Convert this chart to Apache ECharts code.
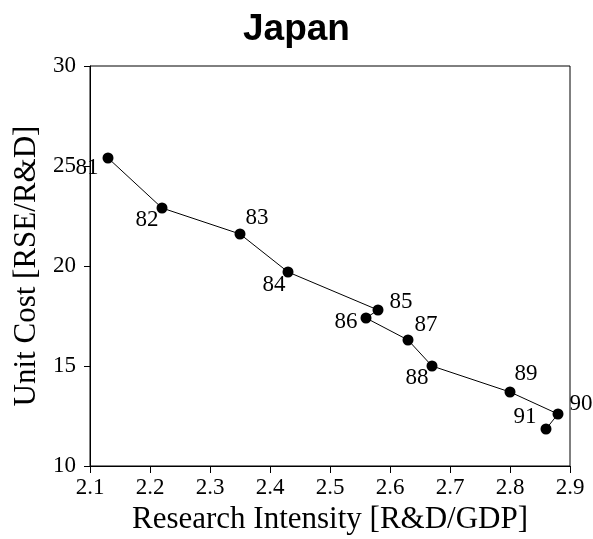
<!DOCTYPE html>
<html>
<head>
<meta charset="utf-8">
<script src="https://cdn.jsdelivr.net/npm/echarts@6/dist/echarts.min.js"></script>
<style>
html,body{margin:0;padding:0;background:#fff;}
#chart{width:593px;height:539px;}
</style>
</head>
<body>
<div id="chart"></div>
<script>
// Data
const years = ['81','82','83','84','85','86','87','88','89','90','91'];
const researchIntensity = [2.13, 2.22, 2.35, 2.43, 2.58, 2.56, 2.63, 2.67, 2.80, 2.88, 2.86];
const unitCost = [25.4, 22.9, 21.6, 19.7, 17.8, 17.4, 16.3, 15.0, 13.7, 12.6, 11.85];
const xTicks = ['2.1','2.2','2.3','2.4','2.5','2.6','2.7','2.8','2.9'];
const yTicks = ['10','15','20','25','30'];

// Style: label offsets (pixels) for each year label
const labelOffsets = [[-21,10],[-15,12],[17,-16],[-14,13],[23,-8],[-20,4],[18,-15],[-15,12],[16,-18],[23,-10],[-21,-12]];

const serif = '"Liberation Serif", "DejaVu Serif", serif';
const chart = echarts.init(document.getElementById('chart'), null, {renderer: 'canvas'});

const seriesData = researchIntensity.map((x, i) => ({
  value: [x, unitCost[i]],
  name: years[i],
  label: { offset: labelOffsets[i] }
}));

chart.setOption({
  animation: false,
  backgroundColor: '#fff',
  title: {
    text: 'Japan',
    left: 'center',
    top: 6,
    textStyle: { fontFamily: '"Liberation Sans", Arial, sans-serif', fontWeight: 'bold', fontSize: 37, color: '#000' }
  },
  grid: {
    left: 90, right: 23, top: 66, bottom: 73,
    containLabel: false,
    outerBoundsMode: 'none',
    show: true, borderColor: '#000', borderWidth: 1, backgroundColor: 'transparent'
  },
  xAxis: {
    type: 'value',
    min: 2.1, max: 2.9, interval: 0.1,
    name: 'Research Intensity [R&D/GDP]',
    nameLocation: 'middle',
    nameGap: 35,
    nameTextStyle: { fontFamily: serif, fontSize: 31, color: '#000' },
    axisLine: { show: true, lineStyle: { color: '#000', width: 1 } },
    axisTick: { show: true, inside: false, length: 7, lineStyle: { color: '#000' } },
    axisLabel: {
      fontFamily: serif, fontSize: 23, color: '#000', margin: 10,
      formatter: (v) => { const s = v.toFixed(1); return xTicks.includes(s) ? s : ''; }
    },
    splitLine: { show: false }
  },
  yAxis: {
    type: 'value',
    min: 10, max: 30, interval: 5,
    name: 'Unit Cost [RSE/R&D]',
    nameLocation: 'middle',
    nameGap: 48,
    nameTextStyle: { fontFamily: serif, fontSize: 31, color: '#000' },
    axisLine: { show: true, lineStyle: { color: '#000', width: 1 } },
    axisTick: { show: true, inside: false, length: 6, lineStyle: { color: '#000' } },
    axisLabel: {
      fontFamily: serif, fontSize: 23, color: '#000', margin: 14,
      formatter: (v) => { const s = String(v); return yTicks.includes(s) ? s : ''; }
    },
    splitLine: { show: false }
  },
  series: [{
    type: 'line',
    data: seriesData,
    clip: false,
    symbol: 'circle',
    symbolSize: 11,
    itemStyle: { color: '#000' },
    lineStyle: { color: '#000', width: 1 },
    label: {
      show: true,
      position: 'inside',
      align: 'center',
      verticalAlign: 'middle',
      fontFamily: serif,
      fontSize: 23,
      color: '#000',
      formatter: (p) => p.name
    }
  }]
});
</script>
</body>
</html>
